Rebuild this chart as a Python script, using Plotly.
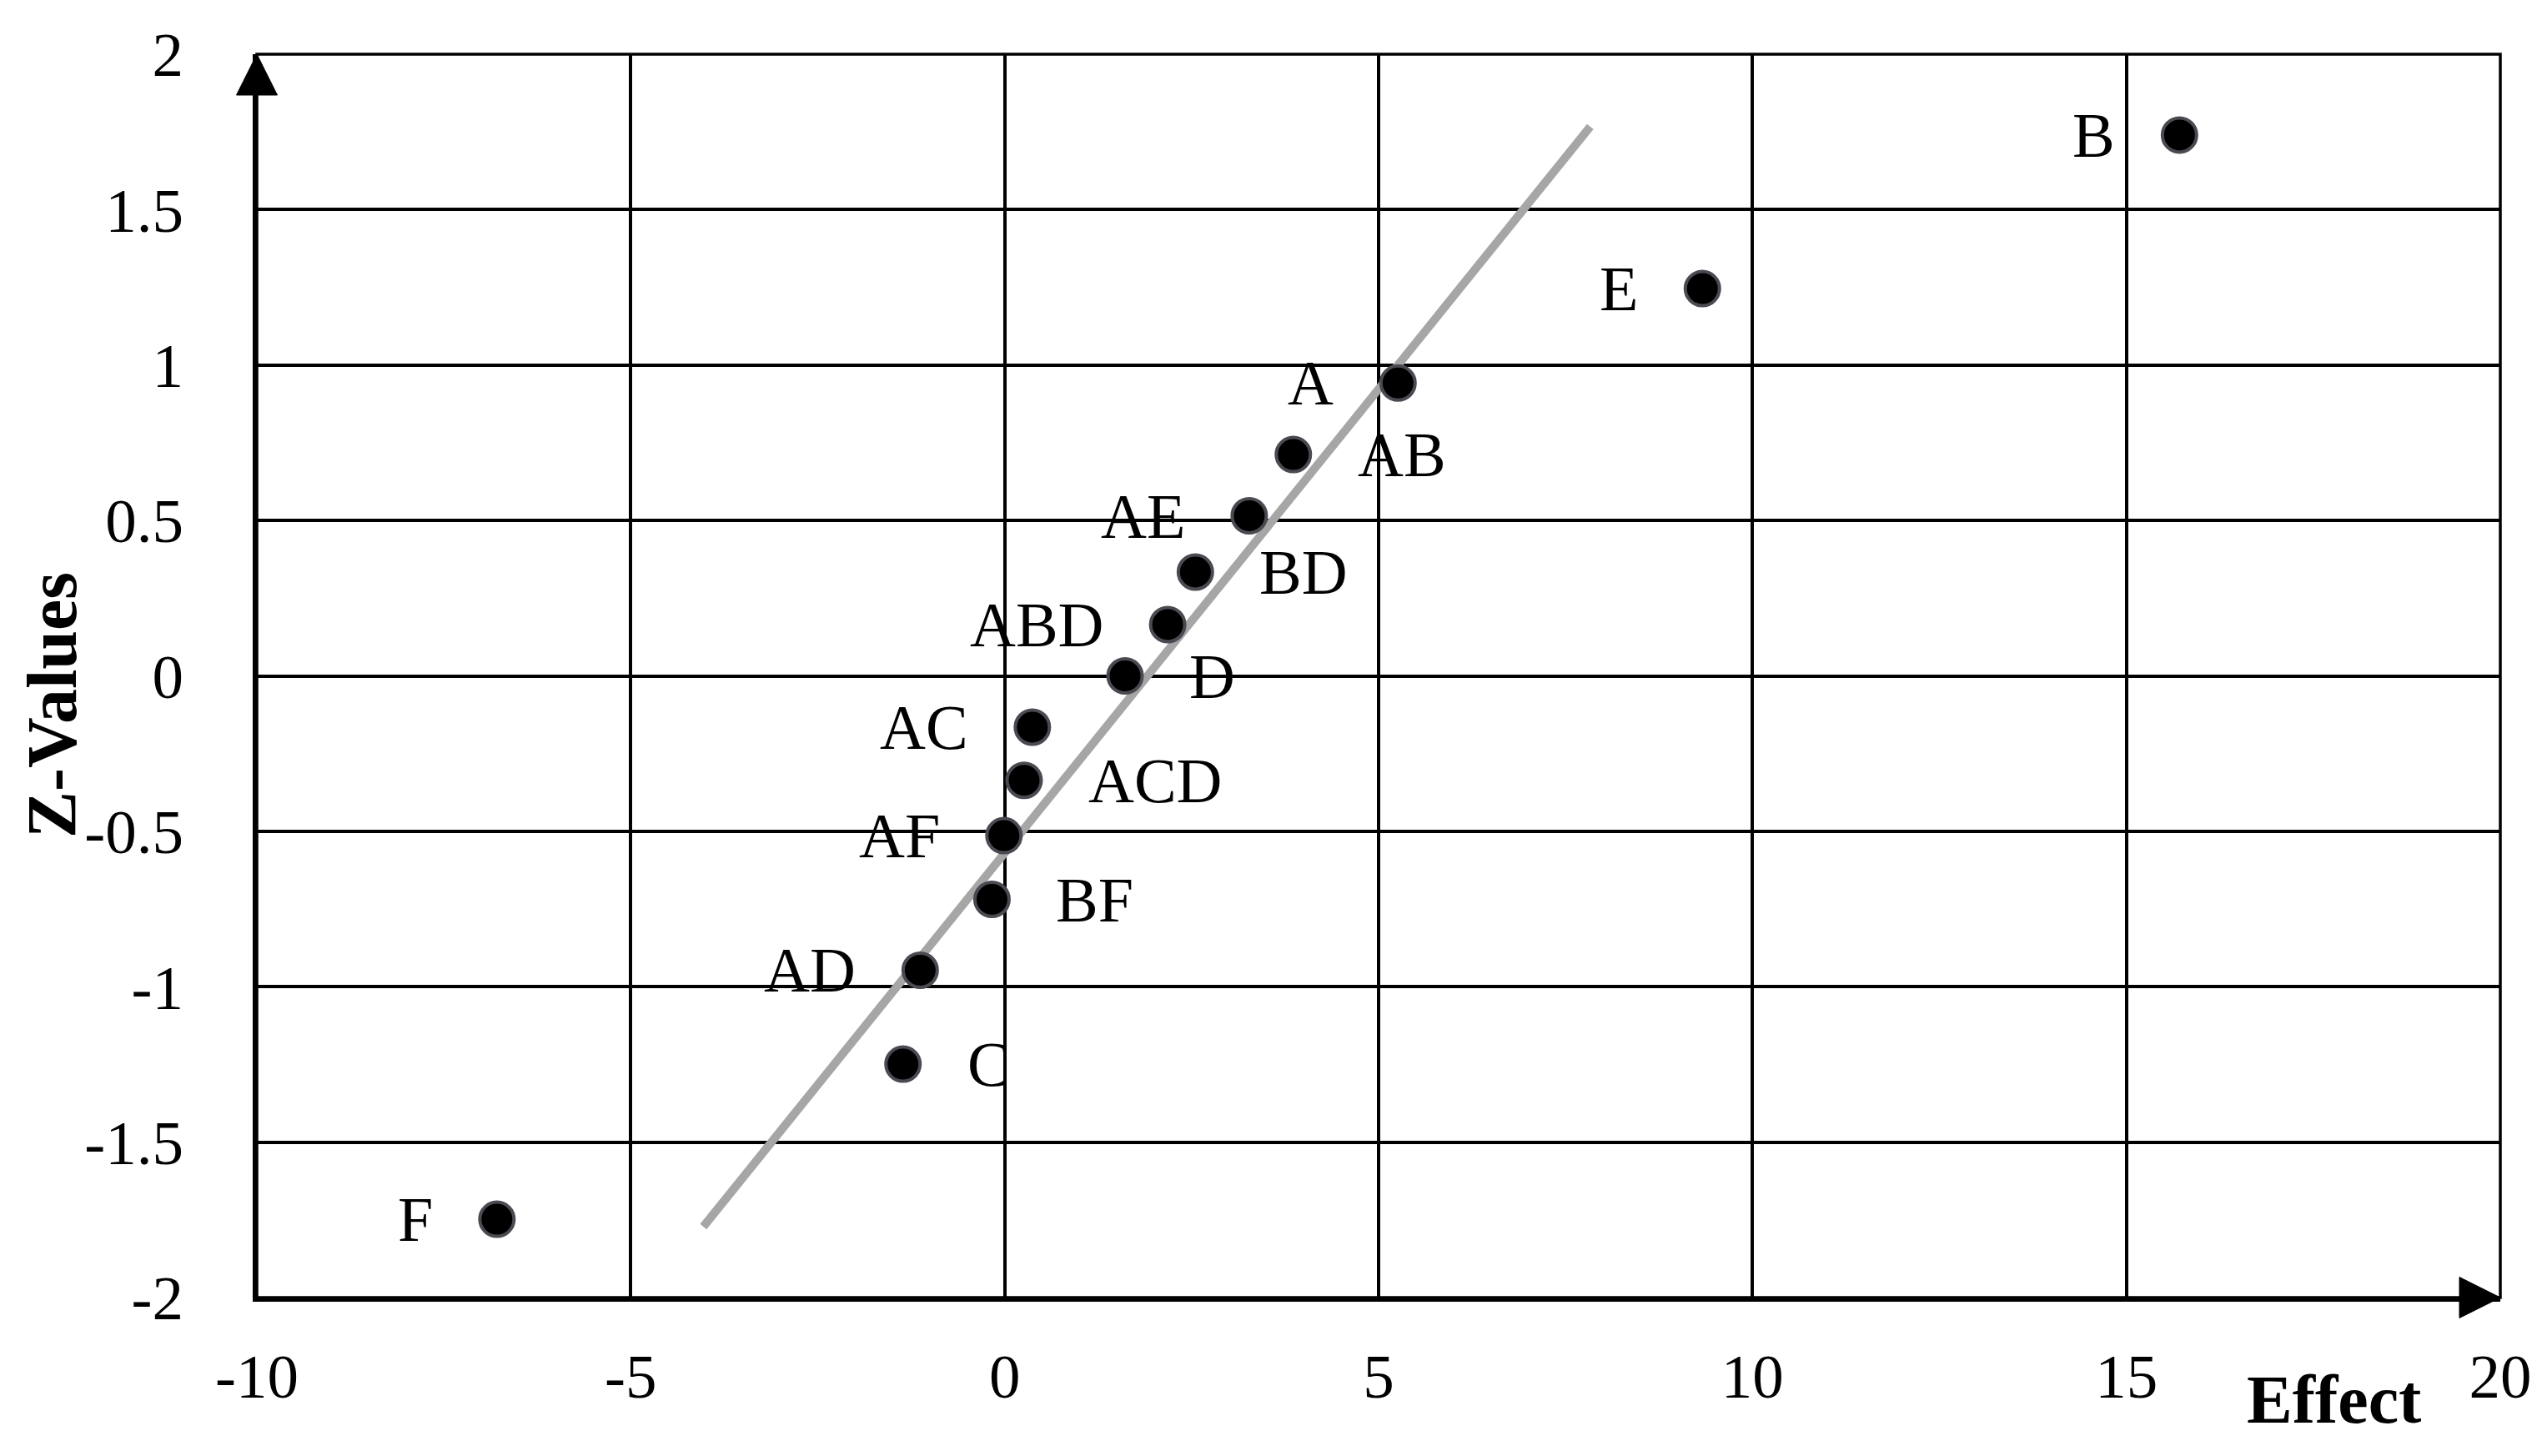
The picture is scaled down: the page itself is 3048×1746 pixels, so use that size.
import plotly.graph_objects as go

# ---- data ----
effect_names = ["F", "C", "AD", "BF", "AF", "ACD", "AC", "D", "ABD", "BD", "AE", "AB", "A", "E", "B"]
effects = [-6.79, -1.36, -1.13, -0.17, -0.01, 0.26, 0.37, 1.61, 2.18, 2.55, 3.27, 3.86, 5.26, 9.33, 15.71]
z_values = [-1.748, -1.249, -0.947, -0.719, -0.514, -0.336, -0.165, 0.0, 0.165, 0.334, 0.515, 0.712, 0.942, 1.246, 1.740]
label_side = ["left", "right", "left", "right", "left", "right", "left", "right",
              "left", "right", "left", "right", "left", "left", "left"]

fit_x = [-4.03, 7.83]
fit_z = [-1.772, 1.767]

x_ticks = [-10, -5, 0, 5, 10, 15, 20]
x_ticktext = ["-10", "-5", "0", "5", "10", "15", "20"]
y_ticks = [-2, -1.5, -1, -0.5, 0, 0.5, 1, 1.5, 2]
y_ticktext = ["-2", "-1.5", "-1", "-0.5", "0", "0.5", "1", "1.5", "2"]

# ---- layout geometry ----
W, H = 3048, 1746
ML, MR, MT, MB = 300, 58, 57, 198
PW, PH = W - ML - MR, H - MT - MB

FONT = "Liberation Serif"
TICK_SIZE = 75
LABEL_SIZE = 76

fig = go.Figure()

fig.add_trace(go.Scatter(
    x=fit_x, y=fit_z, mode="lines",
    line=dict(color="#a6a6a6", width=10),
    hoverinfo="skip", showlegend=False,
))

fig.add_trace(go.Scatter(
    x=effects, y=z_values, mode="markers",
    marker=dict(color="black", size=41, line=dict(color="#4a4a52", width=4)),
    text=effect_names, showlegend=False,
))

annotations = []
for name, ex, zv, side in zip(effect_names, effects, z_values, label_side):
    annotations.append(dict(
        x=ex, y=zv, xref="x", yref="y", text=name, showarrow=False,
        xanchor="right" if side == "left" else "left", yanchor="middle",
        xshift=-75 if side == "left" else 75,
        font=dict(family=FONT, size=LABEL_SIZE, color="black"),
    ))

# axis titles
annotations.append(dict(
    x=-(ML - 54) / PW, y=1 - (838 - MT) / PH, xref="paper", yref="paper",
    text="<b>Z-Values</b>", textangle=-90, showarrow=False,
    xanchor="center", yanchor="middle",
    font=dict(family=FONT, size=84, color="black"),
))
annotations.append(dict(
    x=(2790 - ML) / PW, y=-(1670 - (MT + PH)) / PH, xref="paper", yref="paper",
    text="<b>Effect</b>", showarrow=False,
    xanchor="center", yanchor="middle",
    font=dict(family=FONT, size=82, color="black"),
))

# frame and arrow heads (paper coordinates)
ah_len, ah_half = 49, 24.5
shapes = [
    dict(type="rect", xref="paper", yref="paper", x0=0, x1=1, y0=0, y1=1,
         line=dict(color="black", width=3.5), layer="below"),
    # y-axis arrow head at top
    dict(type="path", xref="paper", yref="paper",
         path=f"M {-ah_half / PW} {1 - ah_len / PH} L 0 1 L {ah_half / PW} {1 - ah_len / PH} Z",
         fillcolor="black", line=dict(color="black", width=1)),
    # x-axis arrow head at right
    dict(type="path", xref="paper", yref="paper",
         path=f"M {1 - ah_len / PW} {ah_half / PH} L 1 0 L {1 - ah_len / PW} {-ah_half / PH} Z",
         fillcolor="black", line=dict(color="black", width=1)),
]

fig.update_layout(
    width=W, height=H,
    margin=dict(l=ML, r=MR, t=MT, b=MB),
    paper_bgcolor="white", plot_bgcolor="white",
    showlegend=False,
    annotations=annotations,
    shapes=shapes,
    xaxis=dict(
        range=[-10, 20], tickvals=x_ticks, ticktext=x_ticktext,
        showgrid=True, gridcolor="black", gridwidth=3.5, zeroline=False,
        showline=True, linecolor="black", linewidth=5,
        ticks="outside", ticklen=25, tickcolor="rgba(0,0,0,0)",
        tickfont=dict(family=FONT, size=TICK_SIZE, color="black"),
    ),
    yaxis=dict(
        range=[-2, 2], tickvals=y_ticks, ticktext=y_ticktext,
        showgrid=True, gridcolor="black", gridwidth=3.5, zeroline=False,
        showline=True, linecolor="black", linewidth=5,
        ticks="outside", ticklen=68, tickcolor="rgba(0,0,0,0)",
        tickfont=dict(family=FONT, size=TICK_SIZE, color="black"),
    ),
)

fig.write_html("out.html")
